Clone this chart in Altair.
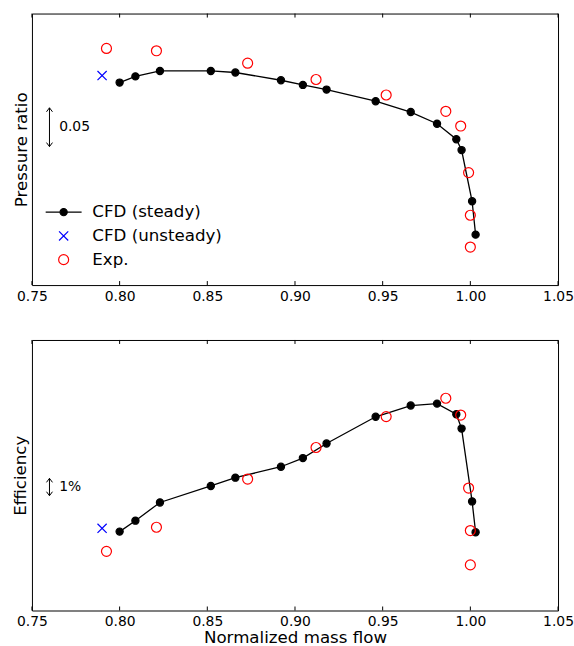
import altair as alt
import pandas as pd

# ---------------- data ----------------
series_names = ["CFD (steady)", "CFD (unsteady)", "Exp."]

x_steady = [0.800, 0.809, 0.823, 0.852, 0.866, 0.892, 0.9045, 0.918, 0.946,
            0.966, 0.981, 0.992, 0.995, 1.001, 1.003]
pr_steady = [1.711, 1.719, 1.726, 1.726, 1.724, 1.714, 1.708, 1.702, 1.687,
             1.673, 1.658, 1.638, 1.624, 1.558, 1.515]
eff_steady = [80.55, 81.18, 82.23, 83.18, 83.66, 84.29, 84.79, 85.63, 87.17,
              87.82, 87.93, 87.32, 86.49, 82.29, 80.51]

x_unsteady = [0.790]
pr_unsteady = [1.720]
eff_unsteady = [80.74]

x_exp = [0.7925, 0.821, 0.873, 0.912, 0.952, 0.986, 0.9945, 0.999, 1.000, 1.000]
pr_exp = [1.755, 1.752, 1.736, 1.715, 1.695, 1.674, 1.655, 1.595, 1.540, 1.499]
eff_exp = [79.41, 80.80, 83.58, 85.40, 87.18, 88.24, 87.27, 83.06, 80.61, 78.63]

x_ticks = [0.75, 0.80, 0.85, 0.90, 0.95, 1.00, 1.05]

# scale-bar annotations
pr_bar = [1.6285, 1.6785]
pr_bar_label = "0.05"
eff_bar = [82.62, 83.62]
eff_bar_label = "1%"
bar_x = 0.760
bar_text_x = 0.7655

# ---------------- styling ----------------
FONT = "DejaVu Sans"
W, H_TOP, H_BOT = 527, 272, 271

DOT = "M0.9,0A0.9,0.9,0,1,1,-0.9,0A0.9,0.9,0,1,1,0.9,0Z"
XMARK = "M-1.15,-1.15L1.15,1.15M-1.15,1.15L1.15,-1.15"
RING = "M1.25,0A1.25,1.25,0,1,1,-1.25,0A1.25,1.25,0,1,1,1.25,0Z"
LEG_STEADY = "M-4.5,0L-0.9,0M0.9,0L4.5,0M0.9,0A0.9,0.9,0,1,1,-0.9,0A0.9,0.9,0,1,1,0.9,0Z"
HEAD_UP = "M-1.5,2L0,0L1.5,2"
HEAD_DOWN = "M-1.5,-2L0,0L1.5,-2"

xscale = alt.Scale(domain=[0.75, 1.05], nice=False, zero=False)


def make_df(ys_steady, ys_unsteady, ys_exp):
    rows = []
    for i, (x, y) in enumerate(zip(x_steady, ys_steady)):
        rows.append({"x": x, "y": y, "series": series_names[0], "idx": i})
    for i, (x, y) in enumerate(zip(x_unsteady, ys_unsteady)):
        rows.append({"x": x, "y": y, "series": series_names[1], "idx": i})
    for i, (x, y) in enumerate(zip(x_exp, ys_exp)):
        rows.append({"x": x, "y": y, "series": series_names[2], "idx": i})
    return pd.DataFrame(rows)


def panel(ys_steady, ys_unsteady, ys_exp, ydomain, ytitle, title_x, height,
          bar, bar_label, show_legend, show_xtitle):
    df = make_df(ys_steady, ys_unsteady, ys_exp)
    steady = df[df.series == series_names[0]]
    others = df[df.series != series_names[0]]
    yscale = alt.Scale(domain=ydomain, nice=False, zero=False)

    xaxis = alt.Axis(values=x_ticks, format=".2f", labelFont=FONT, labelFontSize=13.9,
                     labelColor="black", ticks=False, domain=False, grid=False,
                     labelPadding=4, labelFlush=False, labelOverlap=False,
                     title="Normalized mass flow" if show_xtitle else None,
                     titleFont=FONT, titleFontSize=16.7, titleFontWeight="normal",
                     titleColor="black", titleY=32, titleBaseline="alphabetic")
    yaxis = alt.Axis(labels=False, ticks=False, domain=False, grid=False, title=ytitle,
                     titleFont=FONT, titleFontSize=16.7, titleFontWeight="normal",
                     titleColor="black", titleX=title_x, titleY=height / 2,
                     titleAlign="center", titleBaseline="alphabetic", titleAngle=270)

    def X(field):
        return alt.X(field, scale=xscale, axis=xaxis)

    def Y(field):
        return alt.Y(field, scale=yscale, axis=yaxis)

    line = alt.Chart(steady).mark_line(color="black", strokeWidth=1.3).encode(
        x=X("x:Q"), y=Y("y:Q"), order="idx:Q")
    dots = alt.Chart(steady).mark_point(shape=DOT, size=64, fill="black", stroke="black",
                                        strokeWidth=1.2, opacity=1, filled=True).encode(
        x=X("x:Q"), y=Y("y:Q"))

    if show_legend:
        leg = alt.Legend(
            orient="none", legendX=23.4, legendY=190.6, title=None, padding=0,
            labelFont=FONT, labelFontSize=16.7, labelColor="black",
            labelOffset=20.4, rowPadding=5.8, symbolSize=64, symbolStrokeWidth=1.2,
        )
    else:
        leg = None

    points = alt.Chart(others).mark_point(size=64, strokeWidth=1.2, opacity=1).encode(
        x=X("x:Q"), y=Y("y:Q"),
        stroke=alt.Stroke("series:N", scale=alt.Scale(domain=series_names,
                          range=["black", "#0000ff", "#ff0000"]), legend=leg),
        fill=alt.Fill("series:N", scale=alt.Scale(domain=series_names,
                      range=["black", "transparent", "transparent"]), legend=leg),
        shape=alt.Shape("series:N", scale=alt.Scale(domain=series_names,
                        range=[LEG_STEADY, XMARK, RING]), legend=leg),
    )

    tick_df = pd.DataFrame({"t": x_ticks})
    ticks_top = alt.Chart(tick_df).mark_rule(color="black", strokeWidth=1).encode(
        x=X("t:Q"), y=alt.value(0), y2=alt.value(4))
    ticks_bot = alt.Chart(tick_df).mark_rule(color="black", strokeWidth=1).encode(
        x=X("t:Q"), y=alt.value(height), y2=alt.value(height - 4))

    bar_df = pd.DataFrame({"x": [bar_x], "lo": [bar[0]], "hi": [bar[1]],
                           "tx": [bar_text_x], "ty": [(bar[0] + bar[1]) / 2],
                           "label": [bar_label]})
    bar_rule = alt.Chart(bar_df).mark_rule(color="black", strokeWidth=1).encode(
        x=X("x:Q"), y=Y("lo:Q"), y2="hi:Q")
    head_up = alt.Chart(bar_df).mark_point(shape=HEAD_UP, size=16, stroke="black",
                                           strokeWidth=1, filled=False, opacity=1).encode(
        x=X("x:Q"), y=Y("hi:Q"))
    head_down = alt.Chart(bar_df).mark_point(shape=HEAD_DOWN, size=16, stroke="black",
                                             strokeWidth=1, filled=False, opacity=1).encode(
        x=X("x:Q"), y=Y("lo:Q"))
    bar_text = alt.Chart(bar_df).mark_text(align="left", baseline="middle", font=FONT,
                                           fontSize=13.9, color="black").encode(
        x=X("tx:Q"), y=Y("ty:Q"), text="label:N")

    return alt.layer(line, ticks_top, ticks_bot, bar_rule, head_up, head_down, bar_text,
                     dots, points).properties(width=W, height=height)


top = panel(pr_steady, pr_unsteady, pr_exp, [1.45, 1.80], "Pressure ratio", -5, H_TOP,
            pr_bar, pr_bar_label, True, False)
bottom = panel(eff_steady, eff_unsteady, eff_exp, [76.0, 91.6], "Efficiency", -6.7, H_BOT,
               eff_bar, eff_bar_label, False, True)

chart = alt.vconcat(top, bottom, spacing=55, bounds="flush").resolve_scale(
    stroke="independent", fill="independent", shape="independent"
).properties(
    padding={"left": 11, "top": 12, "right": 0, "bottom": 0},
    background="white",
).configure_view(stroke="black", strokeWidth=1)

chart.save("out.html", embed_options={"renderer": "svg", "actions": False})
